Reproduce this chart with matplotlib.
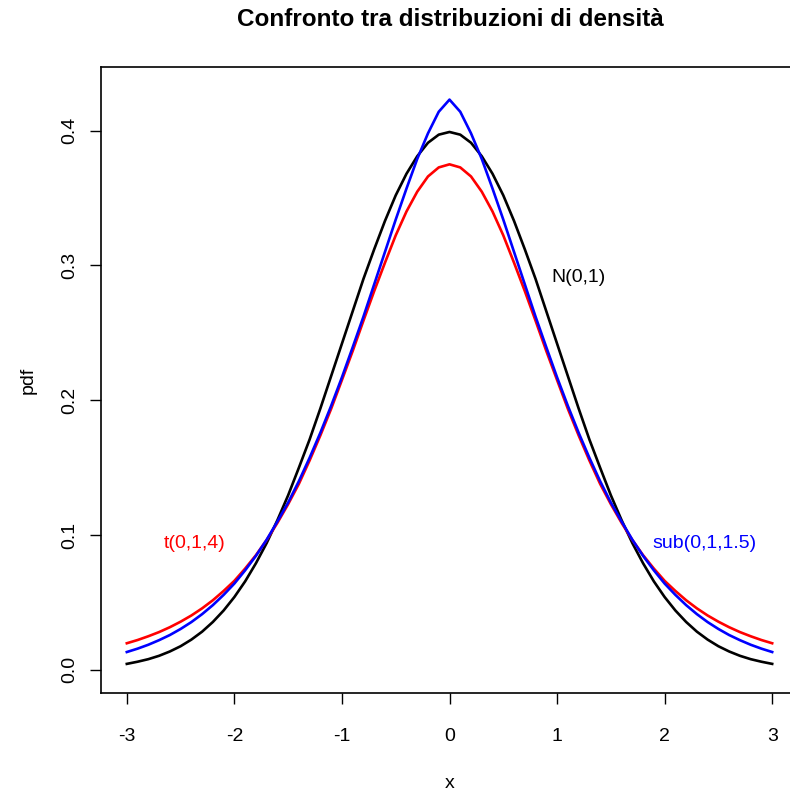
import matplotlib.pyplot as plt

# x grid (half, mirrored below) and densities
x_half = [0.0, 0.1, 0.2, 0.3, 0.4, 0.5, 0.6, 0.7, 0.8, 0.9, 1.0,
          1.1, 1.2, 1.3, 1.4, 1.5, 1.6, 1.7, 1.8, 1.9, 2.0,
          2.1, 2.2, 2.3, 2.4, 2.5, 2.6, 2.7, 2.8, 2.9, 3.0]
norm_half = [0.399, 0.397, 0.391, 0.381, 0.368, 0.352, 0.333, 0.312, 0.290, 0.266, 0.242,
             0.218, 0.194, 0.171, 0.150, 0.1295, 0.111, 0.094, 0.079, 0.0656, 0.054,
             0.044, 0.0355, 0.0283, 0.0224, 0.0175, 0.0136, 0.0104, 0.0079, 0.006, 0.0044]
t_half = [0.375, 0.3727, 0.366, 0.3547, 0.340, 0.3223, 0.302, 0.281, 0.259, 0.2365, 0.215,
          0.1937, 0.174, 0.1554, 0.138, 0.1229, 0.109, 0.0963, 0.085, 0.0751, 0.066,
          0.0585, 0.0516, 0.0456, 0.0403, 0.0357, 0.0316, 0.028, 0.0249, 0.0221, 0.0197]
sub_half = [0.423, 0.414, 0.398, 0.379, 0.357, 0.334, 0.310, 0.286, 0.262, 0.2393, 0.217,
            0.1959, 0.176, 0.1574, 0.140, 0.1241, 0.110, 0.0965, 0.0845, 0.0738, 0.064,
            0.0556, 0.048, 0.0413, 0.0354, 0.0303, 0.0258, 0.022, 0.0186, 0.0157, 0.0132]

x = [-v for v in x_half[::-1]] + x_half[1:]


def mirror(half):
    return half[::-1] + half[1:]


plt.rcParams['font.family'] = ['Liberation Sans', 'DejaVu Sans']

fig = plt.figure(figsize=(7.9, 7.92), dpi=100)
ax = fig.add_axes([101 / 790, 99 / 792, 697 / 790, 626 / 792])

ax.plot(x, mirror(norm_half), color='black', lw=1.9)
ax.plot(x, mirror(t_half), color='red', lw=1.9)
ax.plot(x, mirror(sub_half), color='blue', lw=1.9)

ax.text(1.2, 0.291, 'N(0,1)', color='black', fontsize=14, ha='center', va='center')
ax.text(-2.365, 0.0936, 't(0,1,4)', color='red', fontsize=14, ha='center', va='center')
ax.text(2.37, 0.0936, 'sub(0,1,1.5)', color='blue', fontsize=14, ha='center', va='center')

ax.set_xlim(-3.24, 3.24)
ax.set_ylim(-0.0172, 0.4472)
ax.set_xticks([-3, -2, -1, 0, 1, 2, 3])
ax.set_xticklabels(['-3', '-2', '-1', '0', '1', '2', '3'])
ax.set_yticks([0.0, 0.1, 0.2, 0.3, 0.4])
ax.set_yticklabels(['0.0', '0.1', '0.2', '0.3', '0.4'], rotation=90, va='center')
ax.tick_params(direction='out', length=8, width=1, labelsize=14)
ax.tick_params(axis='x', pad=17.5)
ax.tick_params(axis='y', pad=8.5)
for s in ax.spines.values():
    s.set_linewidth(1.2)

ax.set_xlabel('x', fontsize=14, labelpad=21)
ax.set_ylabel('pdf', fontsize=14, labelpad=17.5)
fig.text(450 / 790, 1 - 20 / 792, 'Confronto tra distribuzioni di densità',
         fontsize=17.5, fontweight='bold', ha='center', va='center')

fig.savefig('out.png', dpi=100)
